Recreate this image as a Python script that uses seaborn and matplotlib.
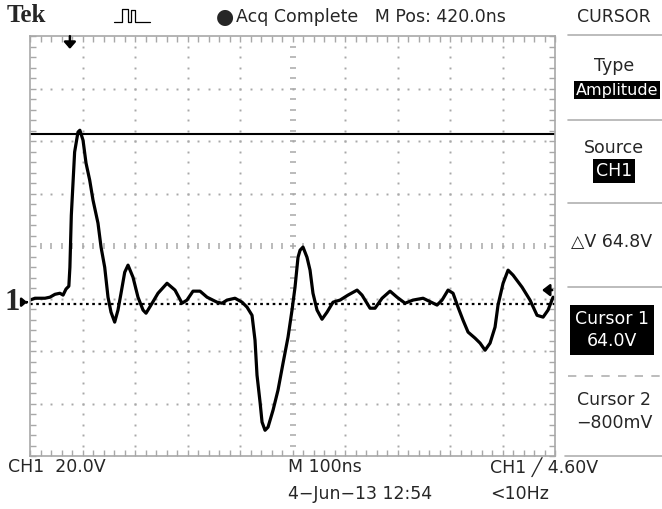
import numpy as np
import pandas as pd
import matplotlib
matplotlib.use("Agg")
import matplotlib.pyplot as plt
import seaborn as sns

# scope settings
VOLTS_PER_DIV = 20.0
NS_PER_DIV = 100.0
GND_DIV = -1.07          # CH1 ground marker position (divisions from centre)
CURSOR1_V = 64.0
CURSOR2_V = -0.8
TRIG_LEVEL_V = 4.6
TRIG_TIME_NS = 76.0

# trace (time on screen in ns, voltage in V)
time_ns = [0, 9.5, 28.6, 38, 47.6, 57, 63, 68.6, 74, 76, 78.7, 85, 91.4, 95,
           101, 106.7, 113.7, 120, 129.5, 135.3, 142.3, 148.6, 154.3, 161.3,
           167.6, 173.4, 180.4, 186.7, 196.2, 205.7, 215.3, 221, 230.5, 243.8,
           261, 276.2, 289.6, 299, 310.5, 323.9, 337.2, 356.2, 365.8, 375.3,
           390.5, 403.9, 413.4, 422.9, 428.6, 432.4, 438.2, 442, 447.7, 453.4,
           463, 472.4, 482, 491.5, 499.1, 504.8, 510.5, 514.4, 520, 527.6,
           533.4, 539, 546.7, 556.2, 565.8, 577.2, 590.6, 605.8, 623, 632.4,
           647.7, 657.2, 670.6, 685.8, 699.1, 714.4, 729.6, 748.7, 775.3,
           784.9, 796.3, 805.8, 815.3, 824.9, 834.4, 847.7, 857.3, 866.8,
           876.3, 885.8, 891.5, 901.1, 910.6, 920.1, 937.3, 952.4, 965.8,
           977.3, 986.8, 996.3]
volts = [0.8, 1.5, 1.5, 1.9, 3.0, 3.4, 2.7, 5.0, 6.1, 13.3, 33.1, 57.2, 64.8, 65.5,
         61.7, 53.0, 46.5, 38.9, 30.1, 21.0, 13.3, 1.9, -3.8, -7.6,
         -3.0, 3.4, 11.4, 14.1, 9.5, 1.9, -3.0, -4.2, -1.1, 3.4,
         7.2, 4.6, -0.4, 0.8, 4.2, 4.2, 1.9, 0.0, -0.4, 0.8,
         1.5, 0.0, -1.9, -5.0, -14.5, -27.8, -38.1, -45.7, -48.8, -47.6,
         -41.1, -33.5, -23.2, -13.3, -3.0, 5.7, 17.1, 19.8, 21.0, 17.1,
         12.2, 3.4, -3.0, -6.5, -3.8, 0.0, 0.8, 2.7, 4.6, 2.7,
         -2.3, -2.3, 1.5, 4.2, 1.9, -0.4, 0.8, 1.5, -1.1,
         0.8, 4.6, 3.4, -1.9, -6.9, -11.4, -13.7, -15.6, -18.3,
         -15.6, -9.5, -1.1, 7.2, 12.2, 10.3, 5.7, 0.8, -5.0,
         -5.7, -3.0, 1.9]

df = pd.DataFrame({"t": time_ns, "v": volts})

sns.set_style("white")
FONT = ["DejaVu Sans"]
plt.rcParams["font.family"] = FONT

W, H = 662, 509
fig = plt.figure(figsize=(W / 100, H / 100), dpi=100)
ax = fig.add_axes([30 / W, 1 - 456 / H, 525 / W, 420 / H])

x0, x1 = 0, 10 * NS_PER_DIV
y0 = (-4 - GND_DIV) * VOLTS_PER_DIV
y1 = (4 - GND_DIV) * VOLTS_PER_DIV
ax.set_xlim(x0, x1)
ax.set_ylim(y0, y1)

grid_col = "#a8a8a8"
# graticule dots
xs_major = np.arange(1, 10) * NS_PER_DIV
ys_major = y0 + np.arange(1, 8) * VOLTS_PER_DIV
xs_minor = x0 + np.arange(1, 50) * NS_PER_DIV / 5
ys_minor = y0 + np.arange(1, 40) * VOLTS_PER_DIV / 5
xc = x0 + 5 * NS_PER_DIV
yc = y0 + 4 * VOLTS_PER_DIV
for gx in xs_major:
    if gx == xc:
        continue
    ax.plot(np.full_like(ys_minor, gx), ys_minor, ls="none", marker="s",
            ms=1.4, mew=0, color=grid_col)
for gy in ys_major:
    if abs(gy - yc) < 1e-6:
        continue
    ax.plot(xs_minor, np.full_like(xs_minor, gy), ls="none", marker="s",
            ms=1.4, mew=0, color=grid_col)
# centre crosshair ticks
ax.plot(xs_minor, np.full_like(xs_minor, yc), ls="none", marker="|",
        ms=5, mew=1.1, color=grid_col)
ax.plot(np.full_like(ys_minor, xc), ys_minor, ls="none", marker="_",
        ms=5, mew=1.1, color=grid_col)

# frame ticks
ax.set_xticks(np.arange(0, 11) * NS_PER_DIV)
ax.set_xticks(xs_minor, minor=True)
ax.set_yticks(y0 + np.arange(0, 9) * VOLTS_PER_DIV)
ax.set_yticks(ys_minor, minor=True)
ax.tick_params(which="both", direction="in", length=4, width=1, color=grid_col,
               top=True, right=True, bottom=True, left=True,
               labelbottom=False, labelleft=False)
for s in ax.spines.values():
    s.set_color(grid_col)
    s.set_linewidth(1.2)

# cursors
ax.axhline(CURSOR1_V, color="black", lw=1.5)
ax.axhline(CURSOR2_V, color="black", lw=1.6, ls=(0, (1.2, 1.6)))

# trace
sns.lineplot(data=df, x="t", y="v", ax=ax, color="black", lw=2.3,
             estimator=None, sort=False)
ax.set_xlabel("")
ax.set_ylabel("")

# markers: trigger position, ground, trigger level
ax.annotate("", xy=(TRIG_TIME_NS, y1 - 0.3 * VOLTS_PER_DIV),
            xytext=(TRIG_TIME_NS, y1 + 0.05 * VOLTS_PER_DIV),
            arrowprops=dict(arrowstyle="-|>,head_width=0.35,head_length=0.4",
                            color="black", lw=1.8), annotation_clip=False)
ax.annotate("", xy=(0, 0), xytext=(-0.12 * NS_PER_DIV, 0),
            arrowprops=dict(arrowstyle="-|>,head_width=0.25,head_length=0.3",
                            color="black", lw=1.8), annotation_clip=False)
ax.text(-0.2 * NS_PER_DIV, 0, "1", ha="right", va="center", fontsize=22,
        fontweight="bold", family="Liberation Serif")
ax.annotate("", xy=(970, TRIG_LEVEL_V), xytext=(1000, TRIG_LEVEL_V),
            arrowprops=dict(arrowstyle="-|>,head_width=0.35,head_length=0.45",
                            color="black", lw=1.8), annotation_clip=False)


def ftxt(x, y, s, **kw):
    kw.setdefault("fontsize", 12.5)
    kw.setdefault("va", "center")
    return fig.text(x / W, 1 - y / H, s, **kw)


# header
ftxt(7, 16, "Tek", fontsize=18, fontweight="bold", family="Liberation Serif")
icon_x = np.array([114, 122, 122, 128, 128, 131, 131, 135, 135, 150])
icon_y = np.array([22, 22, 9, 9, 22, 22, 10, 10, 22, 22])
fig.add_artist(plt.Line2D(icon_x / W, 1 - icon_y / H, color="black", lw=0.9))
ftxt(216, 17, "\u25cf", fontsize=15)
ftxt(236, 17, "Acq Complete   M Pos: 420.0ns")
ftxt(614, 17, "CURSOR", ha="center")
fig.add_artist(plt.Line2D([568 / W, 1], [1 - 35 / H] * 2, color="#b0b0b0", lw=1.2))

# side menu
ftxt(614, 66, "Type", ha="center")
ftxt(617, 90, "Amplitude", ha="center", color="white", fontsize=11.5,
     bbox=dict(boxstyle="square,pad=0.1", fc="black", ec="none"))
for yy in (120, 203, 287):
    fig.add_artist(plt.Line2D([568 / W, 1], [1 - yy / H] * 2, color="#b0b0b0", lw=1.2))
ftxt(614, 148, "Source", ha="center")
ftxt(614, 171, "CH1", ha="center", color="white",
     bbox=dict(boxstyle="square,pad=0.15", fc="black", ec="none"))
ftxt(612, 242, "\u25b3V 64.8V", ha="center")
ftxt(612, 330, "Cursor 1\n64.0V", ha="center", color="white", linespacing=1.3,
     bbox=dict(boxstyle="square,pad=0.3", fc="black", ec="none"))
fig.add_artist(plt.Line2D([568 / W, 1], [1 - 376 / H] * 2, color="#b0b0b0", lw=1.2,
                          ls=(0, (5, 5))))
ftxt(614, 400, "Cursor 2", ha="center")
ftxt(614, 423, "\u2212800mV", ha="center")
fig.add_artist(plt.Line2D([565 / W, 1], [1 - 456 / H] * 2, color="#b0b0b0", lw=1.2))

# footer
ftxt(8, 467, "CH1  20.0V")
ftxt(288, 467, "M 100ns")
ftxt(490, 467, "CH1 \u2571 4.60V")
ftxt(288, 494, "4\u2212Jun\u221213 12:54")
ftxt(490, 494, "<10Hz")

fig.savefig("out.png", dpi=100, facecolor="white")
